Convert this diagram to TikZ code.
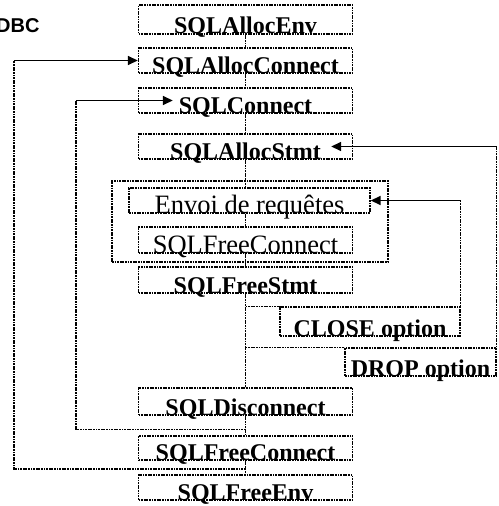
\documentclass[tikz,border=0pt]{standalone}
\usepackage{fontspec}
\setmainfont{Liberation Serif}
\setsansfont{Liberation Sans}
\usetikzlibrary{arrows.meta,calc}

\begin{document}
\begin{tikzpicture}[
  x=1pt, y=-1pt,
  >={Triangle[length=10pt,width=9pt]},
  box/.style={
    draw, line width=1.4pt, dash pattern=on 1.8pt off 0.8pt,
    inner xsep=0pt, inner ysep=0pt, text depth=0pt, align=center
  },
  call/.style={box, font=\fontsize{24}{24}\selectfont\bfseries,
               minimum width=214pt, minimum height=#1, text height=#1},
  plain/.style={box, font=\fontsize{26.5}{26.5}\selectfont,
                minimum height=#1, text height=#1},
  link/.style={line width=1.4pt, dash pattern=on 1.8pt off 0.8pt},
  arr/.style={->, line width=1.6pt}
]
\useasboundingbox (0,0) rectangle (498,506);
\clip (0,0) rectangle (498,506);

% Title, cut at the left border
\node[font=\fontsize{20}{20}\selectfont\sffamily\bfseries, anchor=base east] (title) at (43,32) {ODBC};

% Main column of calls
\node[call=29pt] (env) at (245.5,19.5) {SQLAllocEnv};
\node[call=25pt] (aconn) at (245.5,60.5) {SQLAllocConnect};
\node[call=25pt] (conn) at (245.5,100.5) {SQLConnect};
\node[call=25pt] (astmt) at (245.5,146.5) {SQLAllocStmt};

% Request group
\node[box, minimum width=276pt, minimum height=81pt] (outer) at (250,221.5) {};
\node[plain=25pt, minimum width=241pt] (envoi) at (249.5,200.5) {Envoi de requêtes};
\node[plain=26pt, minimum width=214pt] (fconna) at (245.5,240) {SQLFreeConnect};

\node[call=26pt] (fstmt) at (245.5,280) {SQLFreeStmt};
\node[call=29pt, minimum width=180pt] (close) at (370,321.5) {CLOSE option};
\node[call=28pt, minimum width=151pt] (drop) at (420.5,362) {DROP option};
\node[call=27pt] (disc) at (245.5,401.5) {SQLDisconnect};
\node[call=24pt] (fconnb) at (245.5,448) {SQLFreeConnect};
\node[call=25pt] (fenv) at (245.5,487.5) {SQLFreeEnv};

% Spine
\foreach \a/\b in {env/aconn, aconn/conn, conn/astmt, fstmt/disc, disc/fconnb, fconnb/fenv}
  \draw[link] (\a.south) -- (\b.north);
\draw[link] (astmt.south) -- (astmt.south |- outer.north);
\draw[link] (astmt.south |- outer.north) -- (astmt.south |- envoi.north);
\draw[link] (astmt.south |- envoi.south) -- (fconna.north);
\draw[link] (fconna.south) -- (fconna.south |- outer.south);
\draw[link] (fstmt.north |- outer.south) -- (fstmt.north);

% FreeStmt options going back up
\draw[link] (fstmt.south |- close.north) -- (close.north west);
\draw[link] (close.north east) -- (close.north east |- envoi.east);
\draw[arr] (close.north east |- envoi.east) -- (envoi.east);
\draw[link] (fstmt.south |- drop.north) -- (drop.north west);
\draw[link] (drop.north east) -- (drop.north east |- astmt.east);
\draw[arr] (drop.north east |- astmt.east) -- ([xshift=-22pt]astmt.east);

% Loops on the left
\coordinate (back1) at ($(fconnb.south)!.6!(fenv.north)$);
\coordinate (back2) at ($(disc.south)!.71!(fconnb.north)$);
\coordinate (lane1) at (14,0);
\coordinate (lane2) at (76,0);
\draw[link] (back1) -| (lane1 |- aconn.west);
\draw[arr] (lane1 |- aconn.west) -- (aconn.west);
\draw[link] (back2) -| (lane2 |- conn.west);
\draw[arr] (lane2 |- conn.west) -- ([xshift=35pt]conn.west);

\end{tikzpicture}
\end{document}
